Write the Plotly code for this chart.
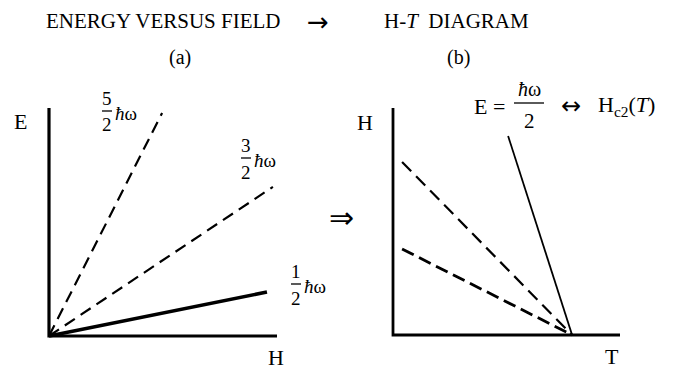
import plotly.graph_objects as go

# ---- data -------------------------------------------------------------
# (a) Landau-level energies E = (n + 1/2) hbar*omega, drawn against field H
level_labels = ["1", "3", "5"]          # numerators of n + 1/2
level_end_H = [0.956, 0.982, 0.496]     # end points of each level line
level_end_E = [0.193, 0.654, 0.978]
level_dash = ["solid", "12px,7px", "12px,7px"]
level_width = [3.5, 2.2, 2.2]

# (b) H-T diagram: lines that meet the T axis at Tc
Tc = 0.789
ht_start_T = [0.507, 0.040, 0.040]
ht_start_H = [0.877, 0.762, 0.379]
ht_dash = ["solid", "13px,7px", "13px,6px"]
ht_width = [1.8, 2.2, 2.8]

axis_len = 1.0

# ---- page geometry ----------------------------------------------------
W, H = 676, 369
FONT = "Liberation Serif"
SYM = "DejaVu Sans"


def fx(x):
    return x / W


def fy(y):
    return 1 - y / H


# pixel origin and pixels per data unit of each panel
PANELS = {
    "a": dict(ox=49, oy=336, s=228),
    "b": dict(ox=393, oy=335, s=227),
}
RLO, RHI = -0.12, 1.15

fig = go.Figure()


def axis_domains(p):
    g = PANELS[p]
    xd = [fx(g["ox"] + g["s"] * RLO), fx(g["ox"] + g["s"] * RHI)]
    yd = [fy(g["oy"] - g["s"] * RLO), fy(g["oy"] - g["s"] * RHI)]
    return xd, yd


xa_d, ya_d = axis_domains("a")
xb_d, yb_d = axis_domains("b")

hidden = dict(visible=False, range=[RLO, RHI], fixedrange=True)

# panel (a): axes and level lines
fig.add_trace(go.Scatter(x=[0, 0, axis_len], y=[axis_len, 0, 0], mode="lines",
                         line=dict(color="black", width=3.2), xaxis="x", yaxis="y",
                         hoverinfo="skip"))
for hh, ee, d, w in zip(level_end_H, level_end_E, level_dash, level_width):
    fig.add_trace(go.Scatter(x=[0, hh], y=[0, ee], mode="lines",
                             line=dict(color="black", width=w, dash=d),
                             xaxis="x", yaxis="y", hoverinfo="skip"))

# panel (b): axes and H(T) lines
fig.add_trace(go.Scatter(x=[0, 0, axis_len], y=[axis_len, 0, 0], mode="lines",
                         line=dict(color="black", width=2.8), xaxis="x2", yaxis="y2",
                         hoverinfo="skip"))
for tt, hh, d, w in zip(ht_start_T, ht_start_H, ht_dash, ht_width):
    fig.add_trace(go.Scatter(x=[tt, Tc], y=[hh, 0], mode="lines",
                             line=dict(color="black", width=w, dash=d),
                             xaxis="x2", yaxis="y2", hoverinfo="skip"))

annotations = []
shapes = []


def text(s, x, y, size=19, xanchor="center", family=FONT):
    annotations.append(dict(text=s, x=fx(x), y=fy(y), xref="paper", yref="paper",
                            showarrow=False, xanchor=xanchor, yanchor="middle",
                            font=dict(family=family, size=size, color="black")))


def bar(x0, x1, y, w=1.3):
    shapes.append(dict(type="line", xref="paper", yref="paper",
                       x0=fx(x0), x1=fx(x1), y0=fy(y), y1=fy(y),
                       line=dict(color="black", width=w)))


HW = "<i>\u0127</i>\u03c9"


def frac_hw(num, cx, ybar, size=19):
    text(num, cx, ybar - 13, size)
    text("2", cx, ybar + 14, size)
    bar(cx - 5, cx + 5, ybar)
    text(HW, cx + 6, ybar + 2, size, xanchor="left")


# headings
text("ENERGY VERSUS FIELD", 44, 21, 21, xanchor="left")
text("\u2192", 318, 22, 26, family=SYM)
text("H-<i>T</i>\u00a0\u00a0DIAGRAM", 382, 21, 21, xanchor="left")
text("(a)", 180, 57, 20)
text("(b)", 458, 58, 20)

# panel (a) labels
text("E", 20, 121, 22)
text("H", 276, 357, 22)
frac_hw(level_labels[2], 107, 111)
frac_hw(level_labels[1], 246, 158)
frac_hw(level_labels[0], 296, 284)

# arrow between panels
text("\u21d2", 341, 217, 30, family=SYM)

# panel (b) labels
text("H", 365, 123, 22)
text("T", 612, 356, 22)
text("E =", 472, 106, 22, xanchor="left")
text(HW, 529, 89, 20)
bar(514, 544, 103)
text("2", 529, 121, 21)
text("\u2194", 571, 106, 24, family=SYM)
text("H<sub>c2</sub>(<i>T</i>)", 596, 106, 22, xanchor="left")

fig.update_layout(
    width=W, height=H,
    margin=dict(l=0, r=0, t=0, b=0),
    paper_bgcolor="white", plot_bgcolor="white",
    showlegend=False,
    xaxis=dict(domain=xa_d, **hidden),
    yaxis=dict(domain=ya_d, **hidden),
    xaxis2=dict(domain=xb_d, anchor="y2", **hidden),
    yaxis2=dict(domain=yb_d, anchor="x2", **hidden),
    annotations=annotations,
    shapes=shapes,
)

fig.write_html("out.html", config={"displayModeBar": False})
